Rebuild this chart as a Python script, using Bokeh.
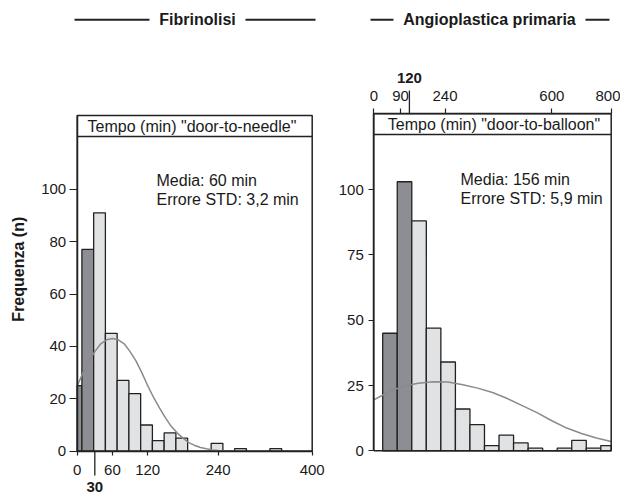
import math
from bokeh.plotting import figure
from bokeh.models import Range1d, LinearAxis, FixedTicker
from bokeh.core.properties import value
from bokeh.embed import file_html
from bokeh.resources import INLINE

# ---------------- data ----------------
# Fibrinolisi: door-to-needle (min), bins of 20 min (first bin starts at the axis origin)
fib_bin_left = [0, 8, 28, 48, 68, 88, 108, 128, 148, 168, 188, 208, 228, 248,
                268, 288, 308, 328, 348, 368, 388]
fib_bin_right = [8, 28, 48, 68, 88, 108, 128, 148, 168, 188, 208, 228, 248, 268,
                 288, 308, 328, 348, 368, 388, 400]
fib_counts = [25, 77, 91, 45, 27, 22, 10, 4, 7, 5, 0, 0, 3, 0, 1, 0, 0, 1, 0, 0, 0]
fib_threshold = 30
fib_curve_x = [0, 10, 20, 30, 40, 50, 60, 70, 80, 90, 100, 110, 120, 130, 140, 150,
               160, 170, 180, 190, 200, 210, 220, 230, 240, 260, 280]
fib_curve_y = [25, 30, 34.5, 38, 41, 42.5, 43, 42.5, 41, 38, 34.5, 30, 25, 20.5, 16.5,
               12.8, 9.5, 7, 5, 3.3, 2.2, 1.4, 0.9, 0.5, 0.3, 0.1, 0]
fib_xticks = [0, 60, 120, 240, 400]
fib_yticks = [0, 20, 40, 60, 80, 100]
fib_xmax = 400
fib_title = "Fibrinolisi"
fib_header = 'Tempo (min) "door-to-needle"'
fib_stats = ["Media: 60 min", "Errore STD: 3,2 min"]

# Angioplastica primaria: door-to-balloon (min), bins of 49 min
pci_bin_left = [30, 79, 128, 177, 226, 275, 324, 373, 422, 471, 520, 569, 618, 667, 716, 765]
pci_bin_right = [79, 128, 177, 226, 275, 324, 373, 422, 471, 520, 569, 618, 667, 716, 765, 800]
pci_counts = [45, 103, 88, 47, 34, 16, 10, 2, 6, 3, 1, 0, 1, 4, 1, 2]
pci_threshold = 120
pci_curve_x = [0, 50, 100, 150, 200, 250, 300, 350, 400, 450, 500, 550, 600, 650, 700, 750, 800]
pci_curve_y = [19.5, 22.5, 24.8, 25.9, 26.4, 26.3, 25.3, 24.0, 22.3, 20.0, 17.3, 14.6,
               11.5, 8.7, 6.6, 4.9, 3.6]
pci_xticks = [0, 90, 240, 600, 800]
pci_yticks = [0, 25, 50, 75, 100]
pci_xmax = 800
pci_title = "Angioplastica primaria"
pci_header = 'Tempo (min) "door-to-balloon"'
pci_stats = ["Media: 156 min", "Errore STD: 5,9 min"]

y_label = "Frequenza (n)"

# ---------------- geometry (pixels) & style ----------------
W, H = 620, 494
FONT = "Liberation Sans"
INK = "#222222"
TXT = "#1a1a1a"
DARK = "#8d8e93"
LIGHT = "#e1e2e4"
CURVE = "#8a8a8a"

# panel frames: x of data 0 / data max, y pixel of data 0 / data 100, top of box, header bottom
L = dict(x0=76.7, x1=311.7, y0=450.7, y100=188.7, top=115.0, hdr=136.0)
R = dict(x0=373.3, x1=610.7, y0=450.3, y100=189.1, top=113.3, hdr=134.0)


def make_range(px0, px1, d0, d1, total, flip=False):
    """Range whose data d0 sits at pixel px0 and d1 at px1 (pixels from left/top)."""
    if flip:
        px0, px1 = total - px0, total - px1
    s = (px1 - px0) / (d1 - d0)
    return Range1d(d0 - px0 / s, d0 + (total - px0) / s)


def inv(px, px0, px1, d0, d1):
    return d0 + (px - px0) * (d1 - d0) / (px1 - px0)


Lx = lambda px: inv(px, L["x0"], L["x1"], 0, fib_xmax)
Ly = lambda py: inv(py, L["y0"], L["y100"], 0, 100)
Rx = lambda px: inv(px, R["x0"], R["x1"], 0, pci_xmax)
Ry = lambda py: inv(py, R["y0"], R["y100"], 0, 100)

p = figure(width=W, height=H,
           x_range=make_range(L["x0"], L["x1"], 0, fib_xmax, W),
           y_range=make_range(L["y0"], L["y100"], 0, 100, H, flip=True),
           x_axis_location=None, y_axis_location=None,
           output_backend="svg", toolbar_location=None, min_border=0)
p.extra_x_ranges = {"pci_x": make_range(R["x0"], R["x1"], 0, pci_xmax, W)}
p.extra_y_ranges = {"pci_y": make_range(R["y0"], R["y100"], 0, 100, H, flip=True)}
p.grid.visible = False
p.outline_line_color = None
p.background_fill_color = "white"
p.border_fill_color = "white"

RK = dict(x_range_name="pci_x", y_range_name="pci_y")


def style_axis(ax, tick_out, standoff, line=True):
    ax.axis_line_color = INK if line else None
    ax.axis_line_width = 1.5
    ax.major_tick_line_color = INK
    ax.major_tick_line_width = 1.2
    ax.major_tick_out = tick_out
    ax.major_tick_in = 0
    ax.minor_tick_line_color = None
    ax.major_label_text_font = FONT
    ax.major_label_text_font_size = "15px"
    ax.major_label_text_color = TXT
    ax.major_label_standoff = standoff


def txt(xs, ys, ts, size="16px", bold=False, align="left", baseline="middle", angle=0, rk=None):
    p.text(x=xs, y=ys, text=ts, text_font=value(FONT), text_font_size=value(size),
           text_font_style="bold" if bold else "normal", text_color=TXT,
           text_align=align, text_baseline=baseline, angle=angle, **(rk or {}))


def hist(lefts, rights, counts, threshold, cx, cy, rk=None):
    colors = [DARK if (l + r) / 2 <= threshold else LIGHT for l, r in zip(lefts, rights)]
    p.quad(left=lefts, right=rights, bottom=[0] * len(lefts), top=counts,
           fill_color=colors, line_color=INK, line_width=1.3, **(rk or {}))
    p.line(cx, cy, line_color=CURVE, line_width=1.5, **(rk or {}))


# ---------------- left panel ----------------
hist(fib_bin_left, fib_bin_right, fib_counts, fib_threshold, fib_curve_x, fib_curve_y)
ltop, lhdr = Ly(L["top"]), Ly(L["hdr"])
p.line([0, fib_xmax, fib_xmax, 0, 0], [0, 0, ltop, ltop, 0], line_color=INK, line_width=1.5)
p.line([0, fib_xmax], [lhdr, lhdr], line_color=INK, line_width=1.5)

ax = LinearAxis(fixed_location=0, bounds=(0, fib_xmax), ticker=FixedTicker(ticks=fib_xticks))
style_axis(ax, 4, 10)
p.add_layout(ax, "below")
ay = LinearAxis(fixed_location=0, bounds=(0, ltop), ticker=FixedTicker(ticks=fib_yticks))
style_axis(ay, 8, 3)
p.add_layout(ay, "left")

txt([Lx(191.5)], [Ly(125.5)], [fib_header], align="center")
txt([Lx(156)] * 2, [Ly(180), Ly(199.3)], fib_stats)
txt([Lx(197)], [Ly(19.3)], [fib_title], bold=True, align="center")
p.segment(x0=[Lx(74), Lx(245)], y0=[Ly(19.3)] * 2, x1=[Lx(149), Lx(315)], y1=[Ly(19.3)] * 2,
          line_color=INK, line_width=2)
# 30-min marker below the axis
p.segment(x0=[fib_threshold], y0=[0], x1=[fib_threshold], y1=[Ly(475)], line_color=INK, line_width=1.3)
txt([fib_threshold], [Ly(486.5)], [str(fib_threshold)], size="15px", bold=True, align="center")
# y-axis title
txt([Lx(18.3)], [Ly(268.7)], [y_label], bold=True, align="center", angle=math.pi / 2)

# ---------------- right panel ----------------
hist(pci_bin_left, pci_bin_right, pci_counts, pci_threshold, pci_curve_x, pci_curve_y, RK)
rtop, rhdr = Ry(R["top"]), Ry(R["hdr"])
p.line([0, pci_xmax, pci_xmax, 0, 0], [0, 0, rtop, rtop, 0], line_color=INK, line_width=1.5, **RK)
p.line([0, pci_xmax], [rhdr, rhdr], line_color=INK, line_width=1.5, **RK)

ay2 = LinearAxis(fixed_location=0, bounds=(0, rtop), ticker=FixedTicker(ticks=pci_yticks), **RK)
style_axis(ay2, 5, 5)
p.add_layout(ay2, "left")
at2 = LinearAxis(fixed_location=rtop, bounds=(0, pci_xmax), ticker=FixedTicker(ticks=pci_xticks), **RK)
style_axis(at2, 5, 8)
p.add_layout(at2, "above")

txt([Rx(493.5)], [Ry(123.7)], [pci_header], align="center", rk=RK)
txt([Rx(460)] * 2, [Ry(179), Ry(198.3)], pci_stats, rk=RK)
txt([Rx(489)], [Ry(19.3)], [pci_title], bold=True, align="center", rk=RK)
p.segment(x0=[Rx(370), Rx(585)], y0=[Ry(19.3)] * 2, x1=[Rx(393), Rx(609)], y1=[Ry(19.3)] * 2,
          line_color=INK, line_width=2, **RK)
# 120-min marker above the top axis
p.segment(x0=[pci_threshold], y0=[rtop], x1=[pci_threshold], y1=[Ry(90)], line_color=INK,
          line_width=1.3, **RK)
txt([pci_threshold], [Ry(77.5)], [str(pci_threshold)], size="15px", bold=True,
    align="center", rk=RK)

open("out.html", "w").write(file_html(p, INLINE))
